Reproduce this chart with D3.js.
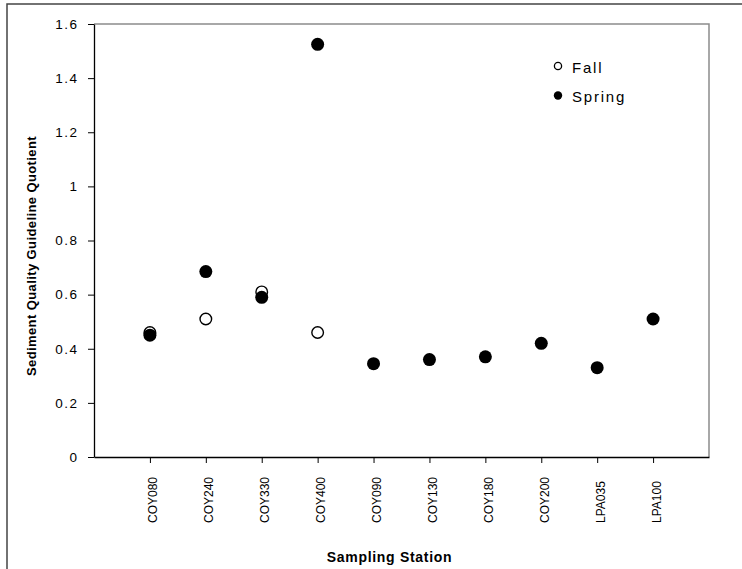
<!DOCTYPE html>
<html>
<head>
<meta charset="utf-8">
<script src="https://cdn.jsdelivr.net/npm/d3@7"></script>
<style>
  body { margin: 0; background: #fff; }
  svg { display: block; font-family: "Liberation Sans", Arial, sans-serif; }
</style>
</head>
<body>
<svg id="chart" width="742" height="569"></svg>
<script>
const stations = ["COY080", "COY240", "COY330", "COY400", "COY090", "COY130", "COY180", "COY200", "LPA035", "LPA100"];
const fallValues = [0.46, 0.51, 0.61, 0.46, null, null, null, null, null, null];
const springValues = [0.45, 0.685, 0.59, 1.525, 0.345, 0.36, 0.37, 0.42, 0.33, 0.51];
const yTicks = [0, 0.2, 0.4, 0.6, 0.8, 1, 1.2, 1.4, 1.6];
const legendItems = ["Fall", "Spring"];

const svg = d3.select("#chart");
const plot = { left: 94, right: 709, top: 24, bottom: 457 };

// outer frame, only top and left edges show
svg.append("rect")
    .attr("x", 7).attr("y", 4)
    .attr("width", 800).attr("height", 700)
    .attr("fill", "none")
    .attr("stroke", "#444")
    .attr("stroke-width", 1.5);

const x = d3.scaleLinear().domain([0, stations.length + 1]).range([plot.left, plot.right]);
const y = d3.scaleLinear().domain([0, 1.6]).range([plot.bottom, plot.top]);

// top and right of plot box in gray
svg.append("path")
    .attr("d", `M${plot.left},${plot.top}H${plot.right}V${plot.bottom}`)
    .attr("fill", "none")
    .attr("stroke", "#8c8c8c")
    .attr("stroke-width", 1.5);

const yAxis = svg.append("g")
    .attr("transform", `translate(${plot.left},0)`)
    .call(d3.axisLeft(y).tickValues(yTicks).tickFormat(d => d).tickSize(6).tickPadding(9.5).tickSizeOuter(0));
yAxis.selectAll("text")
    .attr("font-size", 13.5)
    .attr("letter-spacing", 1.5)
    .attr("fill", "#000")
    .attr("font-family", "Liberation Sans, Arial, sans-serif");

svg.append("g")
    .attr("transform", `translate(0,${plot.bottom})`)
    .call(d3.axisBottom(x).tickValues(d3.range(1, stations.length + 1)).tickFormat("").tickSize(6).tickSizeOuter(0));

svg.selectAll(".domain").attr("stroke", "#000").attr("stroke-width", 1.3);
svg.selectAll(".tick line").attr("stroke", "#000");

svg.append("g").selectAll("text")
    .data(stations)
    .join("text")
    .attr("transform", (d, i) => `translate(${x(i + 1) + 7.5},523) rotate(-90)`)
    .attr("text-anchor", "start")
    .attr("font-size", 12)
    .text(d => d);

// Fall first, Spring drawn on top
svg.append("g").selectAll("circle")
    .data(fallValues.map((v, i) => ({ i, v })).filter(d => d.v != null))
    .join("circle")
    .attr("cx", d => x(d.i + 1))
    .attr("cy", d => y(d.v))
    .attr("r", 5.8)
    .attr("fill", "#fff")
    .attr("stroke", "#000")
    .attr("stroke-width", 1.4);

svg.append("g").selectAll("circle")
    .data(springValues.map((v, i) => ({ i, v })))
    .join("circle")
    .attr("cx", d => x(d.i + 1))
    .attr("cy", d => y(d.v))
    .attr("r", 6.5)
    .attr("fill", "#000");

// legend
const legend = svg.append("g");
legendItems.forEach((name, i) => {
    const ly = 66 + i * 29.5;
    legend.append("circle")
        .attr("cx", 558).attr("cy", ly)
        .attr("r", name === "Fall" ? 3.6 : 4.2)
        .attr("fill", name === "Fall" ? "#fff" : "#000")
        .attr("stroke", "#000")
        .attr("stroke-width", name === "Fall" ? 1.3 : 0);
    legend.append("text")
        .attr("x", 572).attr("y", ly + 6.5)
        .attr("font-size", 15)
        .attr("letter-spacing", 1.8)
        .text(name);
});

svg.append("text")
    .attr("x", 389.5).attr("y", 562)
    .attr("text-anchor", "middle")
    .attr("font-size", 14)
    .attr("font-weight", "bold")
    .attr("letter-spacing", 0.7)
    .text("Sampling Station");

svg.append("text")
    .attr("transform", "translate(36,256) rotate(-90)")
    .attr("text-anchor", "middle")
    .attr("font-size", 13)
    .attr("font-weight", "bold")
    .attr("letter-spacing", 0.4)
    .text("Sediment Quality Guideline Quotient");
</script>
</body>
</html>
